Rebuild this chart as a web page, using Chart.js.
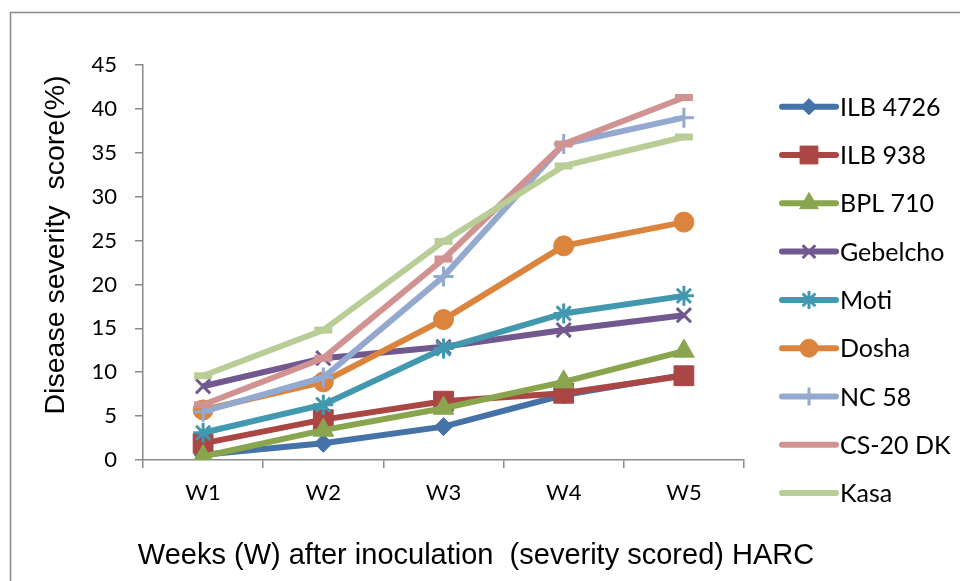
<!DOCTYPE html>
<html lang="en">
<head>
    <meta charset="UTF-8">
    <title>Disease severity score</title>
    <script src="https://cdn.jsdelivr.net/npm/chart.js"></script>
    <style>
        html, body { margin: 0; padding: 0; background: #fff; }
        #wrap { width: 960px; height: 581px; }
    </style>
</head>
<body>
    <div id="wrap"><canvas id="myChart" width="960" height="581"></canvas></div>
    <script>
        const weeks = ['W1', 'W2', 'W3', 'W4', 'W5'];

        const ilb4726  = [0.6, 1.9, 3.8, 7.4, 9.7];
        const ilb938   = [1.9, 4.6, 6.7, 7.6, 9.6];
        const bpl710   = [0.4, 3.4, 5.9, 8.9, 12.4];
        const gebelcho = [8.4, 11.6, 12.9, 14.8, 16.5];
        const moti     = [3.1, 6.3, 12.7, 16.7, 18.7];
        const dosha    = [5.7, 8.9, 16.0, 24.4, 27.1];
        const nc58     = [5.5, 9.4, 20.9, 36.0, 39.0];
        const cs20dk   = [6.3, 11.6, 22.9, 36.0, 41.3];
        const kasa     = [9.6, 14.8, 24.9, 33.5, 36.8];

        const yTicks = [0, 5, 10, 15, 20, 25, 30, 35, 40, 45];

        const series = [
            { label: 'ILB 4726', data: ilb4726,  color: '#4572A7', style: 'rectRot',  r: 9,  pbw: 1 },
            { label: 'ILB 938',  data: ilb938,   color: '#AA4643', style: 'rect',     r: 14, pbw: 1 },
            { label: 'BPL 710',  data: bpl710,   color: '#89A54E', style: 'triangle', r: 12, pbw: 1 },
            { label: 'Gebelcho', data: gebelcho, color: '#71588F', style: 'crossRot', r: 10, pbw: 3 },
            { label: 'Moti',     data: moti,     color: '#4198AF', style: 'star',     r: 10, pbw: 3 },
            { label: 'Dosha',    data: dosha,    color: '#DB843D', style: 'circle',   r: 10, pbw: 1 },
            { label: 'NC 58',    data: nc58,     color: '#93A9CF', style: 'cross',    r: 10, pbw: 3 },
            { label: 'CS-20 DK', data: cs20dk,   color: '#D19392', style: 'line',     r: 9,  pbw: 7 },
            { label: 'Kasa',     data: kasa,     color: '#B9CD96', style: 'line',     r: 9,  pbw: 7 }
        ];

        const tickFont = { family: 'Lato, "Noto Sans", sans-serif', size: 22 };
        const axisGrey = '#898989';

        // outer frame, axis titles and the Excel-style legend
        const decorations = {
            id: 'decorations',
            beforeDraw(chart) {
                const ctx = chart.ctx;
                ctx.save();
                ctx.fillStyle = '#fff';
                ctx.fillRect(0, 0, chart.width, chart.height);
                ctx.strokeStyle = axisGrey;
                ctx.lineWidth = 1.5;
                ctx.strokeRect(10.5, 12.5, 1000, 700);
                ctx.restore();
            },
            afterDraw(chart) {
                const ctx = chart.ctx;
                ctx.save();
                ctx.fillStyle = '#000';
                ctx.textAlign = 'center';
                ctx.textBaseline = 'middle';
                ctx.font = '29px "Liberation Sans", Arial, sans-serif';
                ctx.fillText('Weeks (W) after inoculation  (severity scored) HARC', 476, 556);
                ctx.font = '28.5px "Liberation Sans", Arial, sans-serif';
                ctx.translate(56, 245);
                ctx.rotate(-Math.PI / 2);
                ctx.fillText('Disease severity  score(%)', 0, 0);
                ctx.restore();

                ctx.save();
                ctx.font = '25px Lato, "Noto Sans", sans-serif';
                ctx.textAlign = 'left';
                ctx.textBaseline = 'middle';
                series.forEach((s, i) => {
                    const y = 106.7 + 48.3 * i;
                    ctx.strokeStyle = s.color;
                    ctx.lineWidth = 6;
                    ctx.lineCap = 'round';
                    ctx.beginPath();
                    ctx.moveTo(782, y);
                    ctx.lineTo(836, y);
                    ctx.stroke();
                    if (s.style !== 'line') {
                        ctx.fillStyle = s.color;
                        ctx.strokeStyle = s.color;
                        ctx.lineWidth = s.pbw;
                        ctx.lineCap = 'butt';
                        Chart.helpers.drawPoint(ctx, { pointStyle: s.style, radius: s.r * 0.9, rotation: 0, borderWidth: s.pbw }, 809, y);
                    }
                    ctx.fillStyle = '#000';
                    ctx.fillText(s.label, 840, y + 1);
                });
                ctx.restore();
            }
        };

        const ctx = document.getElementById('myChart').getContext('2d');
        const myChart = new Chart(ctx, {
            type: 'line',
            data: {
                labels: weeks,
                datasets: series.map((s, i) => ({
                    label: s.label,
                    data: s.data,
                    order: -i,
                    borderColor: s.color,
                    backgroundColor: s.color,
                    borderWidth: 6,
                    pointStyle: s.style,
                    pointRadius: s.r,
                    pointHoverRadius: s.r,
                    pointBorderWidth: s.pbw,
                    pointBackgroundColor: s.color,
                    pointBorderColor: s.color,
                    tension: 0,
                    fill: false
                }))
            },
            options: {
                responsive: false,
                animation: false,
                events: [],
                layout: { padding: { left: 0, top: 65, right: 216, bottom: 0 } },
                plugins: {
                    legend: { display: false },
                    tooltip: { enabled: false }
                },
                scales: {
                    x: {
                        offset: true,
                        afterFit: scale => { scale.height = 121; },
                        grid: {
                            offset: true,
                            drawOnChartArea: false,
                            drawTicks: true,
                            tickLength: 8,
                            color: axisGrey,
                            lineWidth: 1.5
                        },
                        border: { display: true, color: axisGrey, width: 1.5 },
                        ticks: { font: tickFont, color: '#000', padding: 12, maxRotation: 0 }
                    },
                    y: {
                        min: 0,
                        max: 45,
                        afterFit: scale => { scale.width = 143; },
                        afterBuildTicks: scale => { scale.ticks = yTicks.map(v => ({ value: v })); },
                        grid: {
                            drawOnChartArea: false,
                            drawTicks: true,
                            tickLength: 8,
                            color: axisGrey,
                            lineWidth: 1.5
                        },
                        border: { display: true, color: axisGrey, width: 1.5 },
                        ticks: { font: tickFont, color: '#000', padding: 18 }
                    }
                }
            },
            plugins: [decorations]
        });
    </script>
</body>
</html>
